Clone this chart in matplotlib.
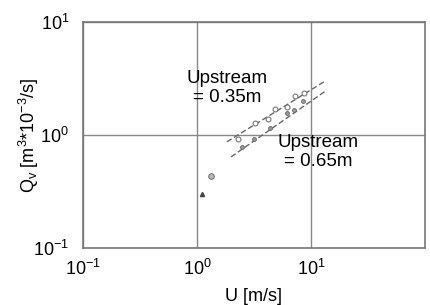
import matplotlib
matplotlib.use("Agg")
import matplotlib.pyplot as plt
import numpy as np

plt.rcParams['font.family'] = ['Liberation Sans', 'DejaVu Sans']

# upstream = 0.35 m (open circles)
u_035 = [2.29, 3.23, 4.20, 4.83, 6.15, 7.24, 8.68]
q_035 = [0.92, 1.28, 1.39, 1.70, 1.77, 2.21, 2.35]
# upstream = 0.65 m
u_065 = [2.48, 3.16, 4.37, 6.15, 7.10, 8.51]
q_065 = [0.78, 0.92, 1.15, 1.57, 1.66, 2.00]
# stray points at low velocity
u_low = [1.32, 1.10]
q_low = [0.434, 0.30]
# fitted dashed lines (end points)
fit_035_u = [1.83, 13.3]
fit_035_q = [0.87, 3.0]
fit_065_u = [1.99, 13.8]
fit_065_q = [0.64, 2.5]

fig = plt.figure(figsize=(4.31, 3.05), dpi=100)
ax = fig.add_axes([83 / 431, 1 - 248 / 305, 342 / 431, 226 / 305])

ax.set_xscale('log')
ax.set_yscale('log')
ax.set_xlim(0.1, 100)
ax.set_ylim(0.1, 10)

ax.plot(fit_035_u, fit_035_q, ls=(0, (4, 2)), color='#666666', lw=1)
ax.plot(fit_065_u, fit_065_q, ls=(0, (4, 2)), color='#666666', lw=1)
ax.plot(u_035, q_035, 'o', ms=3.5, mfc='white', mec='#777777', mew=0.8)
ax.plot(u_065, q_065, 'o', ms=2.8, mfc='#999999', mec='#666666', mew=0.6)
ax.plot(u_low[0], q_low[0], 'o', ms=4, mfc='#bbbbbb', mec='#777777', mew=0.8)
ax.plot(u_low[1], q_low[1], '^', ms=3, color='#444444')

ax.text(1.83, 2.6, "Upstream\n= 0.35m", ha='center', va='center',
        fontsize=13.5, linespacing=1.15)
ax.text(11.5, 0.71, "Upstream\n= 0.65m", ha='center', va='center',
        fontsize=13.5, linespacing=1.15)

ax.set_xticks([0.1, 1, 10])
ax.set_xticklabels([r'$\mathregular{10^{-1}}$', r'$\mathregular{10^{0}}$', r'$\mathregular{10^{1}}$'])
ax.set_yticks([0.1, 1, 10])
ax.set_yticklabels([r'$\mathregular{10^{-1}}$', r'$\mathregular{10^{0}}$', r'$\mathregular{10^{1}}$'])
ax.minorticks_off()
ax.tick_params(length=0, labelsize=13)
ax.tick_params(axis='y', pad=10)
ax.tick_params(axis='x', pad=8)

ax.grid(True, color='#888888', lw=1)
for s in ax.spines.values():
    s.set_color('#777777')
    s.set_linewidth(1.2)

ax.set_xlabel("U [m/s]", fontsize=13, labelpad=6)
ax.set_ylabel(r"Q$_\mathregular{v}$ [m$^\mathregular{3}$*10$^\mathregular{-3}$/s]", fontsize=13, labelpad=-6)

fig.savefig("out.png", dpi=100)
